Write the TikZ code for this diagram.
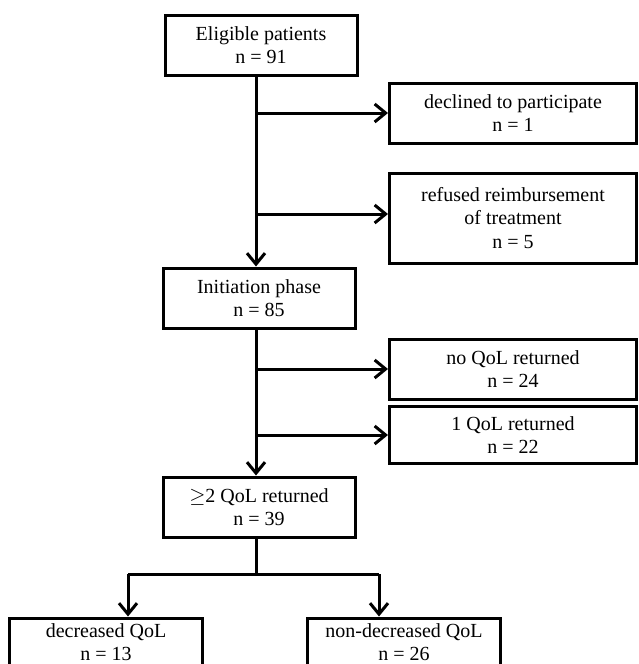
\documentclass[tikz,border=0pt]{standalone}
\usepackage{fontspec}
\setmainfont{Liberation Serif}
\usetikzlibrary{arrows.meta}

\begin{document}
\begin{tikzpicture}[x=1pt,y=-1pt,
  box/.style={draw, line width=3pt, align=center, inner sep=0pt,
    minimum width=192pt, minimum height=60pt,
    font=\fontsize{20}{23.5}\selectfont},
  side/.style={box, minimum width=247pt},
  arr/.style={line width=3pt, -{Straight Barb[length=11pt,width=18pt]}},
  ln/.style={line width=3pt}]
  \useasboundingbox (0,0) rectangle (638,664);
  \clip (0,0) rectangle (638,664);

  % Main column
  \node[box] (elig) at (261,45) {Eligible patients\\n = 91};
  \node[box] (init) at (259,298) {Initiation phase\\n = 85};
  \node[box] (two) at (259,507) {$\geq$2 QoL returned\\n = 39};
  \coordinate (spine) at (256,0);

  % Exclusions
  \node[side] (decl) at (513,113) {declined to participate\\n = 1};
  \node[side, minimum height=90pt] (refu) at (513,218) {refused reimbursement\\of treatment\\n = 5};
  \node[side] (noqol) at (513,369) {no QoL returned\\n = 24};
  \node[side, minimum height=57pt] (oneqol) at (513,435) {1 QoL returned\\n = 22};

  % Outcome groups
  \node[box, minimum width=193pt, minimum height=48pt] (dec) at (106,642) {decreased QoL\\n = 13};
  \node[box, minimum width=193pt, minimum height=48pt] (nondec) at (404,642) {non-decreased QoL\\n = 26};
  \coordinate (lt) at (128,574);
  \coordinate (rt) at (379,574);

  % Arrows
  \draw[arr] (elig.south -| spine) -- (init.north -| spine);
  \draw[arr] (spine |- decl.west) -- (decl.west);
  \draw[arr] ([yshift=4pt]refu.west -| spine) -- ([yshift=4pt]refu.west);
  \draw[arr] (init.south -| spine) -- (two.north -| spine);
  \draw[arr] (spine |- noqol.west) -- (noqol.west);
  \draw[arr] (spine |- oneqol.west) -- (oneqol.west);
  \draw[ln] (two.south -| spine) -- (spine |- lt);
  \draw[ln] (lt) -- (rt);
  \draw[arr] (lt) -- (lt |- dec.north);
  \draw[arr] (rt) -- (rt |- nondec.north);
\end{tikzpicture}
\end{document}
